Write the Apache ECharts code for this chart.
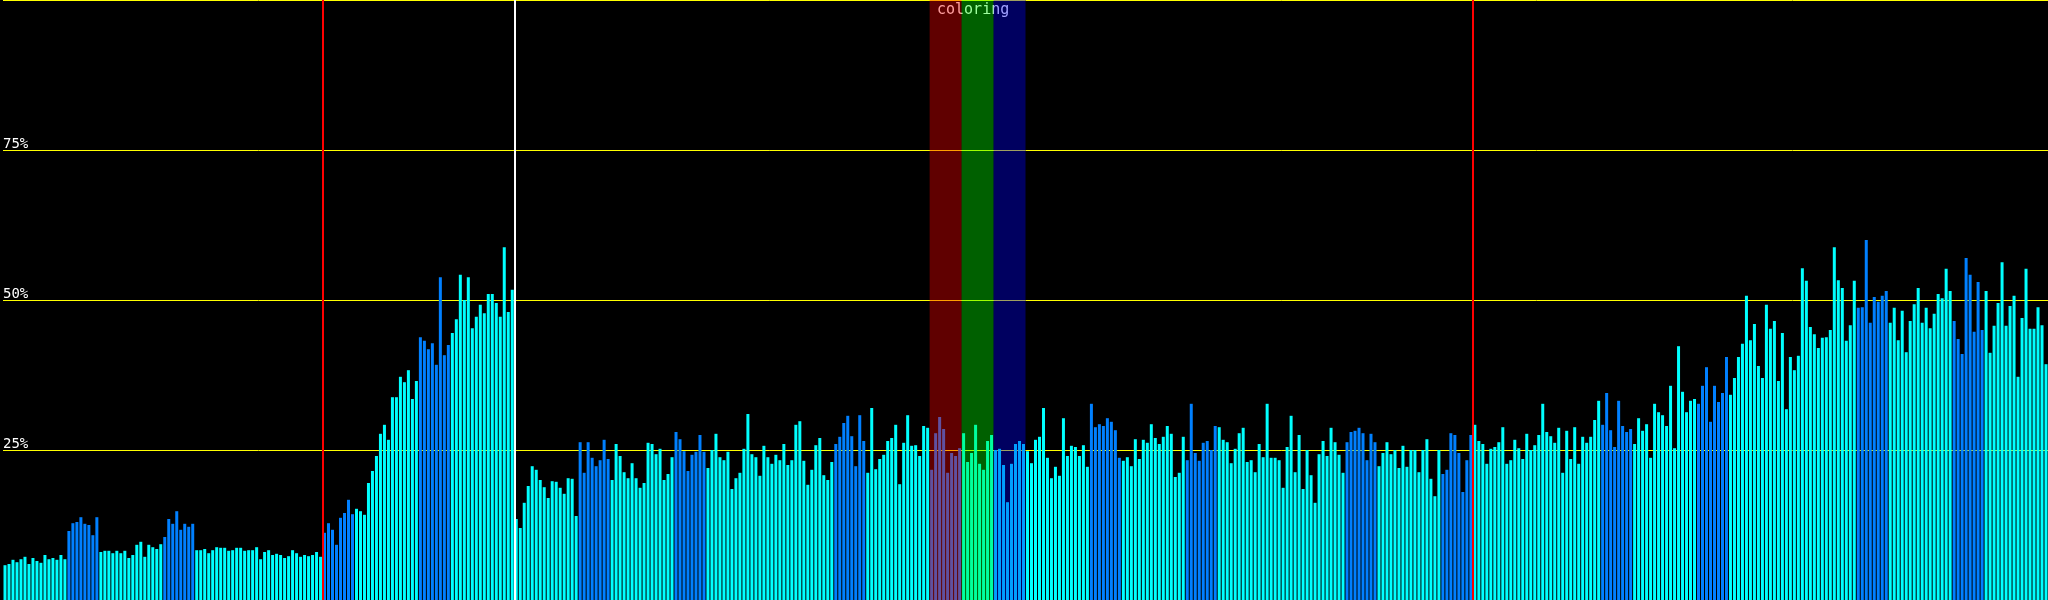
<!DOCTYPE html>
<html>
<head>
<meta charset="utf-8">
<script src="https://cdn.jsdelivr.net/npm/echarts@6/dist/echarts.min.js"></script>
<style>
html,body{margin:0;padding:0;background:#000;}
#chart{width:2048px;height:600px;}
</style>
</head>
<body>
<div id="chart"></div>
<script>
// Bar heights in percent, 512 bars
const barValues = [
  5.8,6.0,6.7,6.3,6.8,7.2,6.0,7.0,6.5,6.2,7.5,6.8,7.0,6.7,7.5,6.8,
  11.5,12.8,13.0,13.8,12.7,12.5,10.8,13.8,
  8.0,8.2,8.2,7.8,8.2,7.8,8.2,7.0,7.5,9.2,9.7,7.2,9.2,8.8,8.5,9.3,
  10.5,13.5,12.7,14.8,11.7,12.7,12.2,12.7,
  8.3,8.3,8.5,7.8,8.3,8.8,8.7,8.7,8.2,8.3,8.7,8.7,8.2,8.3,8.3,8.8,
  6.8,8.0,8.3,7.5,7.7,7.5,7.0,7.3,8.3,7.8,7.2,7.5,7.3,7.5,8.0,7.2,
  11.2,12.8,11.7,9.2,13.7,14.5,16.7,14.3,
  15.2,14.8,14.2,19.5,21.5,24.0,27.7,29.2,26.7,33.8,33.8,37.2,36.3,38.3,33.5,36.5,
  43.8,43.2,41.8,42.8,39.2,53.8,40.8,42.5,
  44.5,46.8,54.2,50.0,53.8,45.3,47.2,49.2,47.8,51.0,51.0,49.5,47.2,58.8,48.0,51.7,
  13.5,12.0,16.2,19.0,22.3,21.7,20.0,18.8,17.0,19.8,19.7,18.7,17.7,20.3,20.2,14.0,
  26.3,21.2,26.3,23.7,22.3,23.3,26.7,23.5,
  20.0,26.0,24.0,21.3,20.3,22.8,20.3,18.7,19.5,26.2,26.0,24.3,25.2,20.0,21.0,23.8,
  28.0,26.8,24.8,21.5,24.2,24.7,27.5,24.7,
  22.0,25.0,27.7,23.8,23.3,24.7,18.5,20.3,21.2,25.2,31.0,24.3,23.8,20.7,25.7,23.8,
  22.7,24.2,23.3,26.0,22.5,23.3,29.2,29.8,23.2,19.2,21.7,25.8,27.0,20.8,20.0,23.0,
  26.0,27.2,29.5,30.7,27.3,22.3,30.8,26.5,
  21.2,32.0,21.8,23.5,24.2,26.5,27.0,29.2,19.3,26.2,30.8,25.7,25.8,24.0,29.0,28.7,
  21.7,27.8,30.5,28.5,21.2,24.5,24.0,25.3,
  27.8,23.0,24.5,29.2,22.7,21.7,26.5,27.5,
  25.0,25.2,22.5,16.3,22.7,26.0,26.5,26.0,
  24.8,22.8,26.7,27.2,32.0,23.7,20.3,22.2,20.7,30.3,24.0,25.7,25.5,24.0,25.8,22.2,
  32.7,28.8,29.3,29.0,30.3,29.7,28.3,23.7,
  23.2,23.8,22.3,26.8,23.5,26.7,26.2,29.3,27.0,26.0,27.2,29.0,27.7,20.5,21.2,27.2,
  23.3,32.7,24.5,23.2,26.2,26.5,25.0,29.0,
  28.8,26.7,26.3,22.8,25.2,27.8,28.7,23.0,23.3,21.3,26.0,23.8,32.7,23.7,23.7,23.3,
  18.7,25.5,30.7,21.3,27.5,18.5,25.0,20.8,16.2,24.3,26.5,24.0,28.7,26.3,24.2,21.2,
  26.3,28.0,28.2,28.7,27.8,23.3,27.7,26.3,
  22.3,24.5,26.3,24.3,25.0,22.0,25.7,22.2,25.0,25.0,21.3,25.0,26.8,20.2,17.3,25.0,
  21.0,21.7,27.8,27.5,24.5,18.0,23.3,27.5,
  29.2,26.5,26.0,22.7,25.2,25.5,26.3,28.8,22.7,23.3,26.7,25.3,23.5,27.7,25.0,25.8,
  27.5,32.7,28.0,27.3,26.2,28.7,21.2,28.2,23.5,28.8,22.7,27.2,26.2,27.2,30.0,33.2,
  29.2,34.5,28.3,25.5,33.2,29.0,28.0,28.5,
  26.0,30.3,28.2,29.3,23.7,32.7,31.3,30.8,29.0,35.7,25.3,42.3,34.7,31.3,33.2,33.5,
  32.7,35.7,38.8,29.7,35.7,33.0,34.5,40.5,
  34.2,37.0,40.5,42.7,50.7,43.3,46.0,39.0,37.0,49.2,45.2,46.5,36.5,44.5,31.8,40.5,
  38.3,40.7,55.3,53.2,45.5,44.3,42.0,43.7,43.8,45.0,58.8,53.3,52.0,43.2,45.8,53.2,
  48.7,48.8,60.0,46.2,50.5,49.7,50.7,51.5,
  46.2,48.7,43.3,48.2,41.3,46.5,49.3,52.0,46.2,48.7,45.3,47.7,51.0,50.3,55.2,51.5,
  46.5,43.5,41.0,57.0,54.2,44.7,53.0,45.0,
  51.5,41.2,45.7,49.5,56.3,45.7,49.0,50.7,37.2,47.0,55.2,45.2,45.2,48.8,45.8,39.3
];

// Colour of each block of 8 bars: C = cyan, B = blue
const blockKinds = [
  'C','C','B','C','C','B','C','C',
  'C','C','B','C','C','B','C','C',
  'C','C','B','C','C','B','C','C',
  'C','C','B','C','C','B','C','C',
  'C','C','B','C','C','B','C','C',
  'C','C','B','C','C','B','C','C',
  'C','C','B','C','C','B','C','C',
  'C','C','B','C','C','B','C','C'
];
const blockSize = 8;
const kindColors = { C: '#00ffff', B: '#0080ff' };

// Vertical cursor lines (bar-index positions) and their colours
const cursorPositions = [80, 128, 368];
const cursorColors = ['#ff0000', '#ffffff', '#ff0000'];

// Highlight bands [from, to] in bar-index units, with overlay colours
const bandRanges = [[232, 240], [240, 248], [248, 256]];
const bandColors = ['rgba(255,0,0,0.375)', 'rgba(0,255,0,0.375)', 'rgba(0,0,255,0.375)'];

const yTickStep = 25;
const titleText = 'coloring';

const barData = barValues.map((v, i) => [i + 0.5, v]);

const chart = echarts.init(document.getElementById('chart'), null, { renderer: 'canvas' });
chart.setOption({
  backgroundColor: '#000000',
  animation: false,
  title: {
    text: titleText,
    left: 937,
    top: 3,
    padding: 0,
    textStyle: { color: '#ffffff', fontFamily: 'DejaVu Sans Mono', fontSize: 15, fontWeight: 'normal' }
  },
  grid: { left: 0.5, top: 0, width: 2048, bottom: 0, containLabel: false },
  xAxis: {
    type: 'value', min: 0, max: barValues.length,
    axisLine: { show: false }, axisTick: { show: false },
    axisLabel: { show: false }, splitLine: { show: false }
  },
  yAxis: {
    type: 'value', min: 0, max: 100, interval: yTickStep,
    axisLine: { show: false }, axisTick: { show: false },
    splitLine: { show: true, lineStyle: { color: '#ffff00', width: 1 } },
    axisLabel: {
      show: true, inside: true, margin: 0,
      formatter: '{value}%',
      showMinLabel: false, showMaxLabel: false,
      color: '#ffffff', fontFamily: 'DejaVu Sans Mono', fontSize: 14,
      align: 'left', verticalAlign: 'bottom', lineHeight: 12
    }
  },
  series: [
    {
      type: 'bar',
      data: barData,
      barWidth: 3,
      z: 2,
      itemStyle: {
        color: p => kindColors[blockKinds[Math.floor(p.dataIndex / blockSize)]]
      },
      markLine: {
        silent: true,
        symbol: ['none', 'none'],
        label: { show: false },
        z: 6,
        data: cursorPositions.map((x, i) => ({
          xAxis: x,
          lineStyle: { color: cursorColors[i], width: 2, type: 'solid' }
        }))
      }
    },
    {
      type: 'line',
      data: [],
      z: 10,
      markArea: {
        silent: true,
        z: 10,
        label: { show: false },
        data: bandRanges.map((r, i) => [
          { xAxis: r[0], itemStyle: { color: bandColors[i] } },
          { xAxis: r[1] }
        ])
      }
    }
  ]
});
</script>
</body>
</html>
